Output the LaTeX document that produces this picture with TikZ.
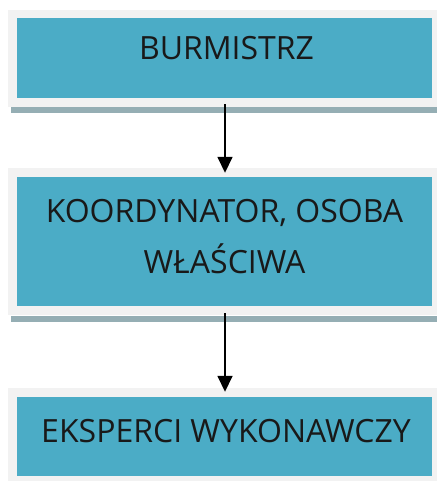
\documentclass[tikz,border=0pt]{standalone}
\usepackage{fontspec}
\setmainfont{Open Sans}
\usetikzlibrary{arrows.meta}
\definecolor{turkus}{HTML}{4BACC6}
\definecolor{ramka}{HTML}{F2F2F2}
\definecolor{cien}{HTML}{95AEB4}
\tikzset{
	pole/.style={fill=turkus, inner sep=0pt, minimum width=415pt},
	napis/.style={font=\fontsize{32}{51}\selectfont, text=black!90, align=center, anchor=base, inner sep=0pt},
	strzalka/.style={-{Triangle[width=15pt,length=16pt]}, line width=1.6pt}
}
\begin{document}
\begin{tikzpicture}[x=1pt, y=-1pt]
			\useasboundingbox (0,0) rectangle (437,484);
			%ramki i cienie
			\fill[cien] (11,107) rectangle (437,113);
			\fill[cien] (11,316) rectangle (437,322);
			\fill[ramka] (8,10) rectangle (437,107);
			\fill[ramka] (8,168) rectangle (437,315);
			\fill[ramka] (8,388) rectangle (437,481);
			
			%pola
			\node[pole, minimum height=80pt] (burmistrz) at (224.5, 58){};
			\node[pole, minimum height=129pt] (koordynator) at (224.5, 241.5){};
			\node[pole, minimum height=79pt] (eksperci) at (224.5, 436.5){};
			
			\node[napis] (burmistrz-t) at (226.5, 60){BURMISTRZ};
			\node[napis] (koordynator-t) at (224.5, 273){KOORDYNATOR, OSOBA\\WŁAŚCIWA};
			\node[napis] (eksperci-t) at (226, 442){EKSPERCI WYKONAWCZY};
			
			\draw[strzalka, shorten <=6pt, shorten >=4pt] ([xshift=0.5pt]burmistrz.south) -- ([xshift=0.5pt]koordynator.north);
			\draw[strzalka, shorten <=7pt, shorten >=5pt] ([xshift=0.5pt]koordynator.south) -- ([xshift=0.5pt]eksperci.north);
		\end{tikzpicture}
\end{document}
